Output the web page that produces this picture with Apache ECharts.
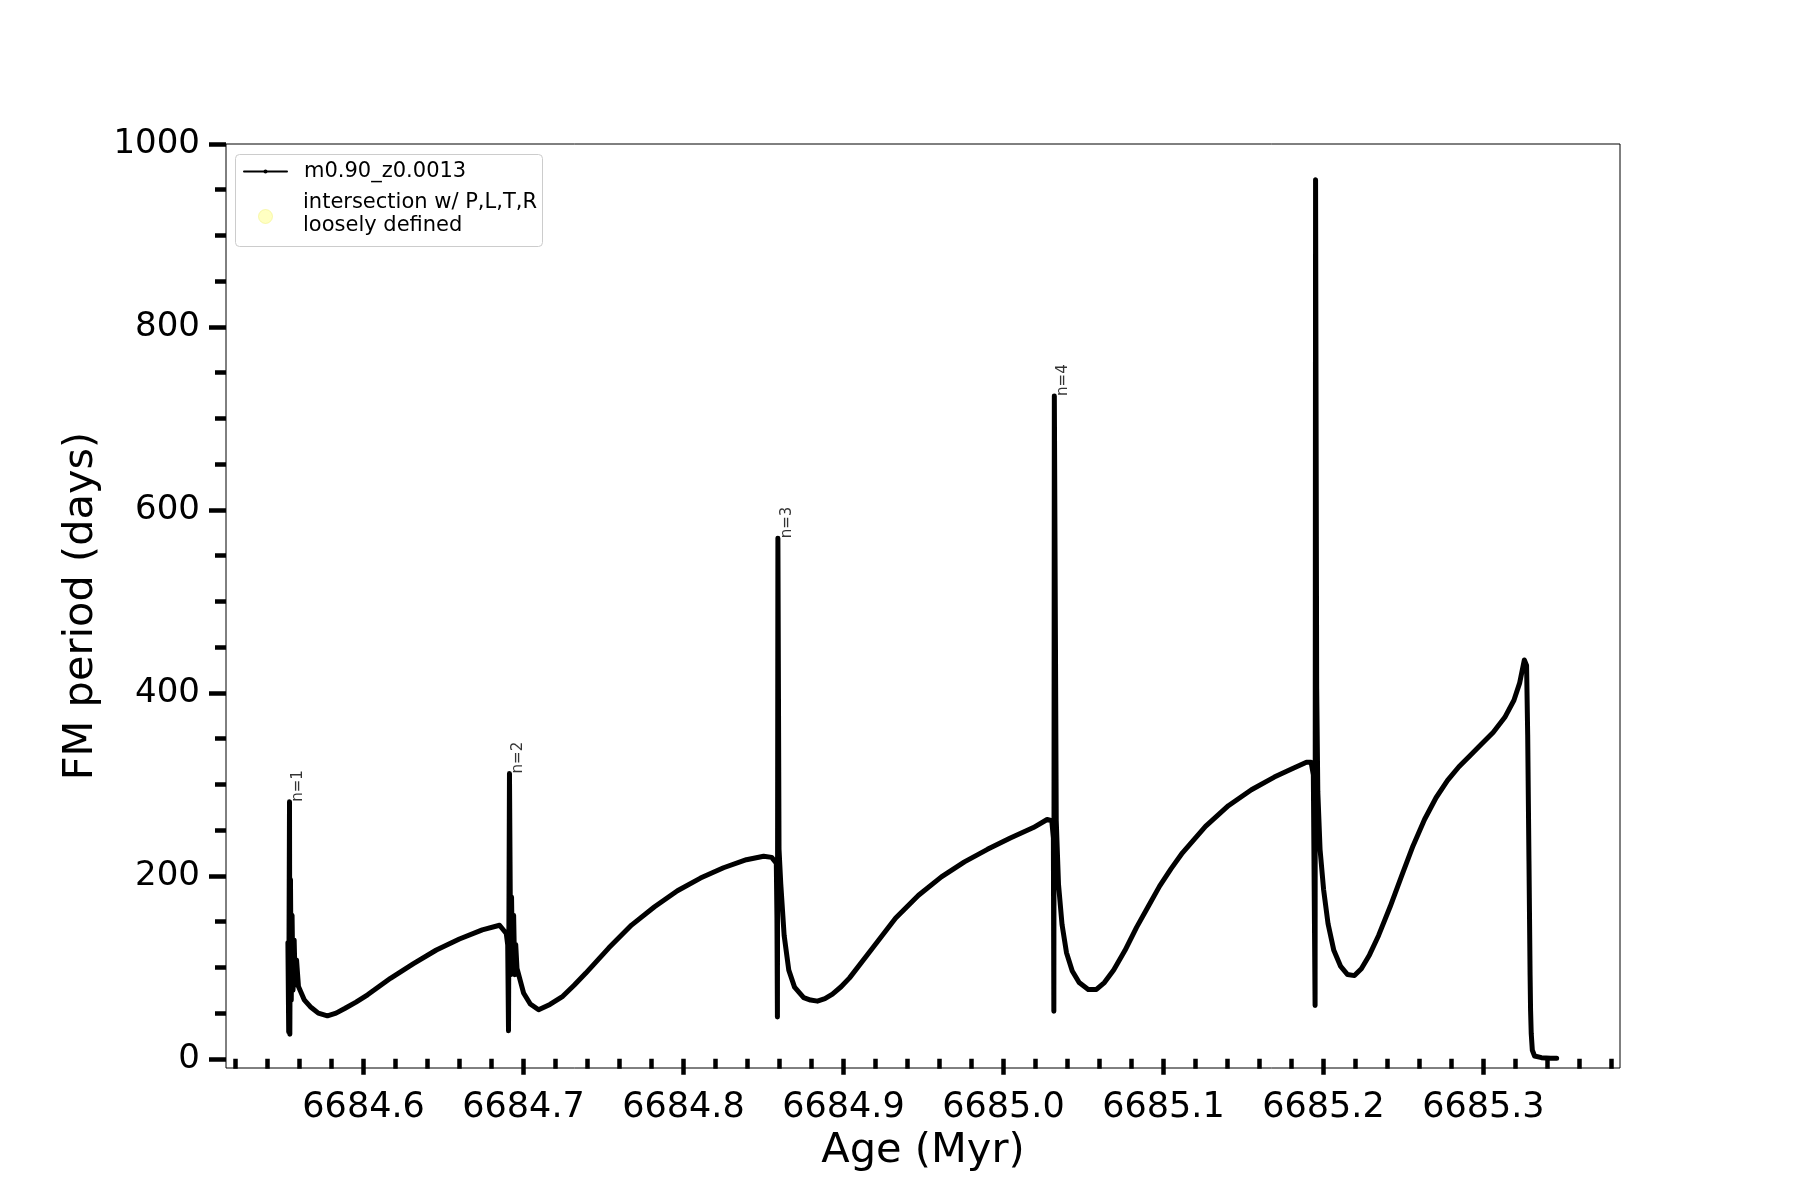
<!DOCTYPE html>
<html>
<head>
<meta charset="utf-8">
<script src="https://cdn.jsdelivr.net/npm/echarts@6/dist/echarts.min.js"></script>
<style>
  html, body { margin: 0; padding: 0; background: #fff; }
  #chart { width: 1800px; height: 1200px; }
</style>
</head>
<body>
<div id="chart"></div>
<script>
// age (Myr) and FM period (days)
const ageMyr = [
  6684.5527, 6684.5532, 6684.5537, 6684.5539, 6684.5543, 6684.5548, 6684.5553, 6684.5559,
  6684.5566, 6684.5573, 6684.5581, 6684.5593, 6684.5629, 6684.5667, 6684.5717, 6684.5774,
  6684.5828, 6684.5882, 6684.5953, 6684.6025, 6684.6168, 6684.6312, 6684.6455, 6684.6599,
  6684.6742, 6684.685,
  6684.6892, 6684.6901, 6684.6906, 6684.6912, 6684.692, 6684.6925, 6684.6931, 6684.6938,
  6684.6945, 6684.6951, 6684.6959, 6684.7, 6684.7042, 6684.7094, 6684.7165, 6684.7245,
  6684.7316, 6684.7388,
  6684.7532, 6684.7675, 6684.7819, 6684.7962, 6684.8106, 6684.825, 6684.8393, 6684.8501,
  6684.8551, 6684.858, 6684.8584, 6684.8587, 6684.859, 6684.8597, 6684.8608, 6684.8629,
  6684.8658, 6684.8694, 6684.8751, 6684.8794, 6684.8837, 6684.8884, 6684.8931, 6684.8985,
  6684.9038, 6684.9182, 6684.9325,
  6684.9469, 6684.9612, 6684.9756, 6684.99, 6685.0043, 6685.0187, 6685.0273, 6685.0302,
  6685.0312, 6685.0315, 6685.0318, 6685.033, 6685.0344, 6685.0366, 6685.0394, 6685.043,
  6685.0473, 6685.053, 6685.0581, 6685.0631, 6685.0689, 6685.076, 6685.0832, 6685.0904,
  6685.0976, 6685.1047, 6685.1119, 6685.1263, 6685.1406, 6685.155, 6685.1693, 6685.1801,
  6685.1894, 6685.1923, 6685.1937, 6685.1948, 6685.1951, 6685.1958, 6685.1965, 6685.1979,
  6685.2001, 6685.2029, 6685.2065, 6685.2108, 6685.2151, 6685.2194, 6685.2237, 6685.2288,
  6685.2345, 6685.2417, 6685.2489, 6685.256, 6685.2632, 6685.2704, 6685.2776, 6685.2847,
  6685.2919, 6685.299, 6685.3062, 6685.3134, 6685.3191, 6685.3227, 6685.3256, 6685.327,
  6685.3277, 6685.3285, 6685.3292, 6685.3295, 6685.3299, 6685.3306, 6685.332, 6685.3363,
  6685.342, 6685.3458
];
const fmPeriod = [
  126.8, 29.5, 281, 27, 196, 64, 157, 75,
  130, 81, 108, 79, 64.5, 57, 50, 47,
  50, 55, 62, 70, 88, 104, 119, 131,
  141, 146,
  137, 124.6, 30.6, 312, 92, 177, 97, 157,
  92, 125, 99, 72, 60, 53.6, 59.5, 68.4,
  80.5, 93.5,
  121.1, 146.2, 166.2, 183.8, 197.6, 208.9, 217.7, 221.5,
  220.2, 214, 153.7, 45.8, 569, 229, 191, 135,
  97, 78.4, 67, 64.3, 63.1, 65.8, 70.7, 78.8,
  88.5, 121.1, 153.7,
  178.8, 198.9, 215.3, 229, 241.5, 252.8, 261.6, 260.3,
  241.5, 52.1, 724.6, 260, 191, 147, 116, 96,
  83.4, 75.9, 75.9, 83.4, 97.2, 118.6, 143.7, 166.2,
  188.8, 207.7, 225.2, 254.1, 276.7, 294.2, 308, 316.8,
  324.3, 324.3, 310.5, 58.3, 961, 404.6, 292, 229,
  185.3, 147.7, 118.6, 101, 92.2, 91, 98.5, 113.6,
  134.9, 166.2, 200, 232.7, 261.6, 285.4, 304.3, 319.3,
  331.9, 344.4, 357, 373.3, 392, 411, 436, 430,
  354, 216, 91, 53, 28, 9.4, 3.1, 1.3,
  0.6, 0.6
];

// thermal pulse annotations
const spikeAge = [6684.5537, 6684.6912, 6684.859, 6685.0318];
const spikePeriod = [281, 312, 569, 724.6];
const spikeLabels = ['n=1', 'n=2', 'n=3', 'n=4'];

// axis ticks
const X_MIN = 6684.514, X_MAX = 6685.3854;
const Y_MIN = -10, Y_MAX = 1000;
const xMajorTicks = [6684.6, 6684.7, 6684.8, 6684.9, 6685.0, 6685.1, 6685.2, 6685.3];
const yMajorTicks = [0, 200, 400, 600, 800, 1000];
const xMinorTicks = [];
for (let k = 0; k <= 43; k++) {
  if (k % 5 === 4) continue; // 0.1 majors
  xMinorTicks.push(Math.round((6684.52 + 0.02 * k) * 100) / 100);
}
const yMinorTicks = [];
for (let v = 50; v < 1000; v += 50) {
  if (v % 200 !== 0) yMinorTicks.push(v);
}

const lineName = 'm0.90_z0.0013';
const dotName = 'intersection w/ P,L,T,R\nloosely defined';
const FONT = 'DejaVu Sans';

const chart = echarts.init(document.getElementById('chart'));

const tickStyle = { color: '#000', width: 4.5 };

const option = {
  animation: false,
  backgroundColor: '#fff',
  grid: {
    left: 226, right: 180, top: 144, bottom: 132,
    show: true, borderColor: '#000', borderWidth: 1,
    backgroundColor: 'transparent',
  },
  graphic: [
    {
      type: 'rect', left: 235, top: 154, z: 3,
      shape: { width: 307, height: 92, r: 4 },
      style: { fill: 'rgba(255,255,255,0.8)', stroke: '#cccccc', lineWidth: 1 },
    },
    {
      type: 'circle', z: 4,
      shape: { cx: 265.5, cy: 216.5, r: 7 },
      style: { fill: 'rgba(255,255,153,0.6)', stroke: 'rgba(240,240,120,0.5)', lineWidth: 1 },
    },
    {
      type: 'text', left: 303, top: 191, z: 4,
      style: { text: dotName, font: '21px "DejaVu Sans"', fill: '#000', lineHeight: 23 },
    },
  ],
  legend: {
    data: [lineName],
    left: 243, top: 160, padding: 0,
    itemWidth: 43, itemHeight: 5,
    lineStyle: { width: 2 },
    textStyle: { fontFamily: FONT, fontSize: 21, lineHeight: 23, color: '#000', padding: [0, 0, 0, 12] },
  },
  xAxis: [
    {
      type: 'value', min: X_MIN, max: X_MAX, position: 'bottom',
      name: 'Age (Myr)', nameLocation: 'middle', nameGap: 57,
      nameTextStyle: { fontFamily: FONT, fontSize: 41.5, color: '#000' },
      axisLine: { show: false },
      splitLine: { show: false },
      axisTick: { show: true, customValues: xMajorTicks, length: 16, lineStyle: tickStyle },
      axisLabel: {
        customValues: xMajorTicks, margin: 22,
        formatter: (v) => v.toFixed(1),
        fontFamily: FONT, fontSize: 35, color: '#000',
      },
    },
    {
      type: 'value', min: X_MIN, max: X_MAX, position: 'bottom',
      axisLine: { show: false },
      splitLine: { show: false },
      axisTick: { show: true, customValues: xMinorTicks, length: 10, lineStyle: tickStyle },
      axisLabel: { show: false, customValues: xMinorTicks },
    },
  ],
  yAxis: [
    {
      type: 'value', min: Y_MIN, max: Y_MAX, position: 'left',
      name: 'FM period (days)', nameLocation: 'middle', nameGap: 107,
      nameTextStyle: { fontFamily: FONT, fontSize: 41.5, color: '#000' },
      axisLine: { show: false },
      splitLine: { show: false },
      axisTick: { show: true, customValues: yMajorTicks, length: 17, lineStyle: tickStyle },
      axisLabel: {
        customValues: yMajorTicks, margin: 26,
        formatter: (v) => String(v),
        fontFamily: FONT, fontSize: 34, color: '#000',
      },
    },
    {
      type: 'value', min: Y_MIN, max: Y_MAX, position: 'left',
      axisLine: { show: false },
      splitLine: { show: false },
      axisTick: { show: true, customValues: yMinorTicks, length: 11, lineStyle: tickStyle },
      axisLabel: { show: false, customValues: yMinorTicks },
    },
  ],
  series: [
    {
      name: lineName,
      type: 'line',
      xAxisIndex: 0, yAxisIndex: 0,
      data: ageMyr.map((a, i) => [a, fmPeriod[i]]),
      symbol: 'circle', symbolSize: 4, showSymbol: false,
      lineStyle: { color: '#000', width: 5, join: 'round', cap: 'round' },
      itemStyle: { color: '#000' },
      z: 2,
    },
    {
      name: 'pulses',
      type: 'scatter',
      xAxisIndex: 0, yAxisIndex: 0,
      silent: true,
      symbolSize: 1,
      itemStyle: { color: 'rgba(0,0,0,0)' },
      data: spikeAge.map((a, i) => [a, spikePeriod[i], spikeLabels[i]]),
      label: {
        show: true, position: 'inside', offset: [0, 9],
        align: 'left', verticalAlign: 'middle', rotate: 90,
        formatter: (p) => p.value[2],
        fontFamily: FONT, fontSize: 15, color: '#000',
      },
      z: 5,
    },
  ],
};

chart.setOption(option);
</script>
</body>
</html>
